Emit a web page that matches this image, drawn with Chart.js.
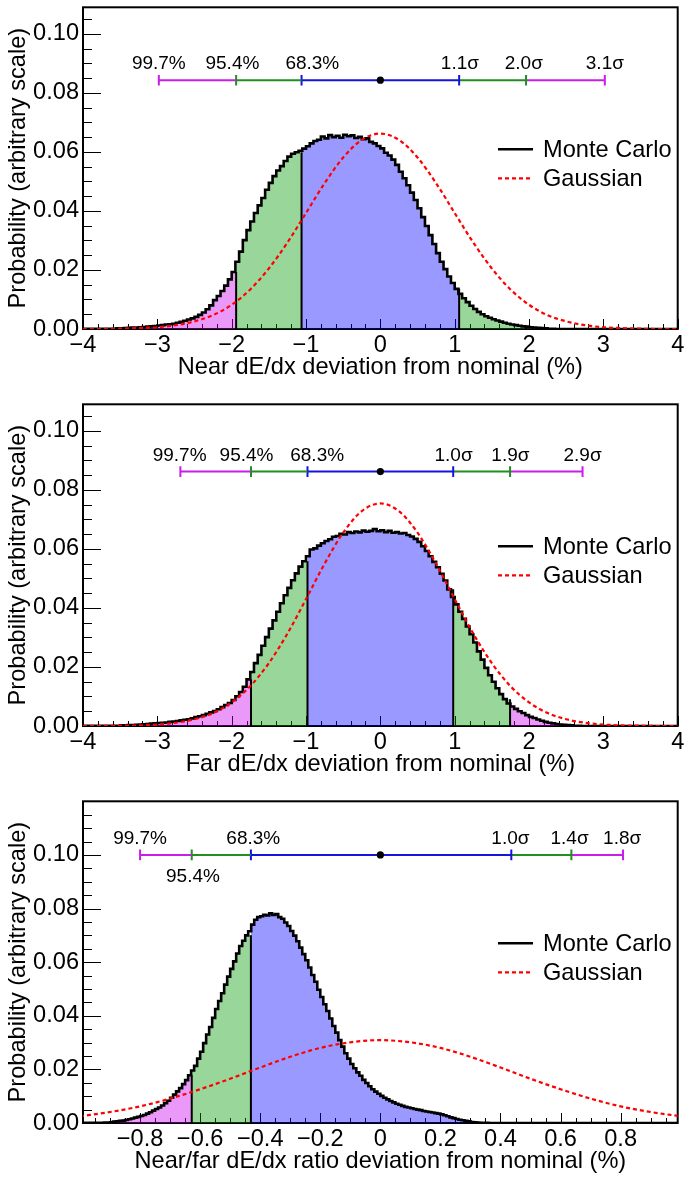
<!DOCTYPE html>
<html>
<head>
<meta charset="utf-8">
<script src="https://cdn.jsdelivr.net/npm/chart.js@4.4.1/dist/chart.umd.min.js"></script>
<style>
  html, body { margin: 0; padding: 0; background: #fff; width: 685px; height: 1180px; overflow: hidden; }
  .panel { position: absolute; left: 0; width: 685px; height: 397px; }
  canvas { display: block; }
</style>
</head>
<body>
<div class="panel" style="top:0px"><canvas id="near" width="685" height="397"></canvas></div>
<div class="panel" style="top:397px"><canvas id="far" width="685" height="397"></canvas></div>
<div class="panel" style="top:794px"><canvas id="ratio" width="685" height="397"></canvas></div>
<script>
// ---------------- data ----------------
const seriesNames = ['Monte Carlo', 'Gaussian'];

const yTicksNF = [0, 0.02, 0.04, 0.06, 0.08, 0.10];
const yTicksRatio = [0, 0.02, 0.04, 0.06, 0.08, 0.10];
const xTicksNF = [-4, -3, -2, -1, 0, 1, 2, 3, 4];
const xTicksRatio = [-0.8, -0.6, -0.4, -0.2, 0, 0.2, 0.4, 0.6, 0.8];

// Monte Carlo histograms: first bin edge, bin width, bin contents
const nearStart = -3.6, nearWidth = 0.05;
const nearMC = [
  0.0001,0.0001,0.0002,0.0002,0.0003,0.0004,0.0005,0.0005,0.0006,0.0007,
  0.0008,0.0009,0.0010,0.0012,0.0013,0.0015,0.0016,0.0018,0.0021,0.0024,
  0.0028,0.0032,0.0036,0.0041,0.0048,0.0056,0.0067,0.0080,0.0098,0.0112,
  0.0129,0.0147,0.0168,0.0193,0.0228,0.0262,0.0301,0.0335,0.0364,0.0393,
  0.0419,0.0444,0.0472,0.0495,0.0518,0.0537,0.0552,0.0569,0.0584,0.0594,
  0.0599,0.0604,0.0611,0.0619,0.0629,0.0637,0.0641,0.0652,0.0646,0.0657,
  0.0650,0.0655,0.0648,0.0658,0.0653,0.0656,0.0647,0.0651,0.0643,0.0646,
  0.0634,0.0629,0.0620,0.0612,0.0597,0.0588,0.0574,0.0556,0.0533,0.0511,
  0.0487,0.0462,0.0437,0.0409,0.0379,0.0349,0.0318,0.0288,0.0257,0.0228,
  0.0203,0.0178,0.0156,0.0136,0.0119,0.0104,0.0091,0.0079,0.0068,0.0058,
  0.0050,0.0043,0.0038,0.0033,0.0029,0.0025,0.0021,0.0018,0.0015,0.0013,
  0.0011,0.0009,0.0008,0.0006,0.0005,0.0004,0.0003,0.0002,0.0001,0.0001
];

const farStart = -3.6, farWidth = 0.05;
const farMC = [
  0.0001,0.0001,0.0001,0.0002,0.0002,0.0003,0.0003,0.0004,0.0005,0.0006,
  0.0007,0.0008,0.0009,0.0010,0.0011,0.0012,0.0014,0.0015,0.0017,0.0019,
  0.0021,0.0023,0.0026,0.0030,0.0033,0.0037,0.0041,0.0046,0.0051,0.0057,
  0.0064,0.0071,0.0078,0.0088,0.0101,0.0115,0.0133,0.0158,0.0183,0.0213,
  0.0241,0.0272,0.0301,0.0330,0.0358,0.0387,0.0416,0.0443,0.0468,0.0494,
  0.0517,0.0540,0.0558,0.0575,0.0598,0.0602,0.0611,0.0619,0.0627,0.0633,
  0.0641,0.0644,0.0651,0.0649,0.0657,0.0654,0.0659,0.0656,0.0662,0.0658,
  0.0661,0.0667,0.0660,0.0663,0.0657,0.0661,0.0655,0.0657,0.0652,0.0654,
  0.0647,0.0642,0.0634,0.0624,0.0609,0.0593,0.0575,0.0556,0.0538,0.0516,
  0.0493,0.0463,0.0437,0.0412,0.0387,0.0363,0.0337,0.0311,0.0283,0.0253,
  0.0225,0.0197,0.0172,0.0150,0.0128,0.0108,0.0091,0.0076,0.0066,0.0058,
  0.0050,0.0044,0.0037,0.0031,0.0027,0.0022,0.0018,0.0014,0.0011,0.0009,
  0.0007,0.0005,0.0004,0.0003,0.0002,0.0001,0.0001
];

const ratioStart = -0.93, ratioWidth = 0.01;
const ratioMC = [
  0.0001,0.0001,0.0002,0.0002,0.0003,0.0005,0.0006,0.0008,0.0009,0.0011,
  0.0014,0.0017,0.0020,0.0023,0.0026,0.0030,0.0035,0.0040,0.0046,0.0052,
  0.0058,0.0065,0.0074,0.0083,0.0094,0.0106,0.0118,0.0130,0.0145,0.0160,
  0.0178,0.0196,0.0213,0.0240,0.0266,0.0298,0.0330,0.0358,0.0392,0.0425,
  0.0455,0.0484,0.0516,0.0546,0.0575,0.0603,0.0632,0.0660,0.0680,0.0700,
  0.0715,0.0740,0.0758,0.0768,0.0771,0.0777,0.0774,0.0782,0.0776,0.0779,
  0.0768,0.0762,0.0748,0.0735,0.0716,0.0699,0.0678,0.0654,0.0630,0.0607,
  0.0580,0.0552,0.0527,0.0497,0.0470,0.0443,0.0418,0.0390,0.0362,0.0337,
  0.0309,0.0285,0.0260,0.0240,0.0220,0.0204,0.0189,0.0176,0.0161,0.0149,
  0.0137,0.0126,0.0117,0.0109,0.0101,0.0094,0.0088,0.0082,0.0077,0.0072,
  0.0068,0.0064,0.0060,0.0058,0.0055,0.0052,0.0050,0.0048,0.0045,0.0043,
  0.0041,0.0039,0.0037,0.0035,0.0032,0.0029,0.0025,0.0021,0.0018,0.0015,
  0.0012,0.0010,0.0008,0.0006,0.0004,0.0003,0.0002,0.0001,0.0001,0.0001
];

// Gaussian curves
const gaussXNF = [-4,-3.75,-3.5,-3.25,-3,-2.75,-2.5,-2.25,-2,-1.75,-1.5,-1.25,-1,-0.75,-0.5,-0.25,
                  0,0.25,0.5,0.75,1,1.25,1.5,1.75,2,2.25,2.5,2.75,3,3.25,3.5,3.75,4];
const nearGauss = [0.0000,0.0000,0.0001,0.0003,0.0006,0.0013,0.0026,0.0047,0.0082,0.0134,0.0205,0.0293,
                   0.0393,0.0494,0.0581,0.0641,0.0662,0.0641,0.0581,0.0494,0.0393,0.0293,0.0205,0.0134,
                   0.0082,0.0047,0.0026,0.0013,0.0006,0.0003,0.0001,0.0000,0.0000];
const farGauss = [0.0000,0.0000,0.0001,0.0002,0.0005,0.0011,0.0023,0.0044,0.0080,0.0135,0.0213,0.0313,
                  0.0430,0.0550,0.0655,0.0728,0.0754,0.0728,0.0655,0.0550,0.0430,0.0313,0.0213,0.0135,
                  0.0080,0.0044,0.0023,0.0011,0.0005,0.0002,0.0001,0.0000,0.0000];
const gaussXRatio = [-1,-0.9,-0.8,-0.7,-0.6,-0.5,-0.4,-0.3,-0.2,-0.1,0,0.1,0.2,0.3,0.4,0.5,0.6,0.7,0.8,0.9,1];
const ratioGauss = [0.0025,0.0041,0.0062,0.0091,0.0126,0.0165,0.0207,0.0247,0.0280,0.0301,0.0309,
                    0.0301,0.0280,0.0247,0.0207,0.0165,0.0126,0.0091,0.0062,0.0041,0.0025];

// Interval ends: 99.7%, 95.4%, 68.3% (low side), then 68.3%, 95.4%, 99.7% (high side)
const nearIntervals = [-2.98, -1.94, -1.06, 1.06, 1.96, 3.02];
const farIntervals = [-2.69, -1.74, -0.98, 0.98, 1.745, 2.72];
const ratioIntervals = [-0.80, -0.628, -0.431, 0.436, 0.636, 0.808];
const nearCentre = 0, farCentre = 0, ratioCentre = 0;
const nearBarLevel = 0.0843, farBarLevel = 0.0862, ratioBarLevel = 0.100;

const lowLabels = ['99.7%', '95.4%', '68.3%'];
const nearHighLabels = ['1.1σ', '2.0σ', '3.1σ'];
const farHighLabels = ['1.0σ', '1.9σ', '2.9σ'];
const ratioHighLabels = ['1.0σ', '1.4σ', '1.8σ'];
const nearLowLabelX = [-2.98, -1.99, -0.915];
const nearHighLabelX = [1.07, 1.93, 3.02];
const farLowLabelX = [-2.70, -1.80, -0.85];
const farHighLabelX = [0.985, 1.75, 2.72];
const ratioLowLabelX = [-0.80, -0.624, -0.423];
const ratioHighLabelX = [0.433, 0.63, 0.805];

// ---------------- styling ----------------
const FONT = "'Liberation Sans', Arial, Helvetica, sans-serif";
const BIG = 23.6, SMALL = 19;
const FILL = ['rgba(204,0,240,0.4)', 'rgba(0,153,0,0.4)', 'rgba(0,0,255,0.4)', 'rgba(0,153,0,0.4)', 'rgba(204,0,240,0.4)'];
const BAR = ['#c81ee8', '#1f8f1f', '#1414dc', '#1f8f1f', '#c81ee8'];

Chart.defaults.font.family = FONT;
Chart.defaults.color = '#000';

const fmtInt = v => (v < 0 ? '\u2212' : '') + Math.abs(v);
const fmtDec = v => v === 0 ? '0' : (v < 0 ? '\u2212' : '') + Math.abs(v).toFixed(1);

const panels = [
  { id: 'near', hist: {start: nearStart, width: nearWidth, values: nearMC},
    gx: gaussXNF, gy: nearGauss, xmin: -4, xmax: 4, ymax: 0.109,
    xTicks: xTicksNF, xMinor: 0.2, yTicks: yTicksNF, yMinor: 0.005, fmt: fmtInt,
    title: 'Near dE/dx deviation from nominal (%)',
    iv: nearIntervals, centre: nearCentre, bar: nearBarLevel,
    lowText: lowLabels, lowX: nearLowLabelX, lowBelow: [false, false, false],
    highText: nearHighLabels, highX: nearHighLabelX },
  { id: 'far', hist: {start: farStart, width: farWidth, values: farMC},
    gx: gaussXNF, gy: farGauss, xmin: -4, xmax: 4, ymax: 0.109,
    xTicks: xTicksNF, xMinor: 0.2, yTicks: yTicksNF, yMinor: 0.005, fmt: fmtInt,
    title: 'Far dE/dx deviation from nominal (%)',
    iv: farIntervals, centre: farCentre, bar: farBarLevel,
    lowText: lowLabels, lowX: farLowLabelX, lowBelow: [false, false, false],
    highText: farHighLabels, highX: farHighLabelX },
  { id: 'ratio', hist: {start: ratioStart, width: ratioWidth, values: ratioMC},
    gx: gaussXRatio, gy: ratioGauss, xmin: -0.99, xmax: 0.99, ymax: 0.12,
    xTicks: xTicksRatio, xMinor: 0.05, yTicks: yTicksRatio, yMinor: 0.005, fmt: fmtDec,
    title: 'Near/far dE/dx ratio deviation from nominal (%)',
    iv: ratioIntervals, centre: ratioCentre, bar: ratioBarLevel,
    lowText: lowLabels, lowX: ratioLowLabelX, lowBelow: [false, true, false],
    highText: ratioHighLabels, highX: ratioHighLabelX }
];

// ---------------- drawing helpers ----------------
function decorPlugin(p) {
  const has = (arr, v) => arr.some(t => Math.abs(t - v) < 1e-7);
  return {
    id: 'decor',
    beforeDatasetsDraw(chart) {
      const {ctx, chartArea: a, scales: {x, y}} = chart;
      ctx.save();
      ctx.strokeStyle = '#000';
      ctx.lineWidth = 1;
      ctx.beginPath();
      for (let k = 0; k * p.yMinor <= p.ymax + 1e-9; k++) {
        const v = +(k * p.yMinor).toFixed(6);
        const py = Math.round(y.getPixelForValue(v)) + 0.5;
        const len = has(p.yTicks, v) ? 18 : 9;
        ctx.moveTo(a.left, py); ctx.lineTo(a.left + len, py);
      }
      const k0 = Math.ceil(p.xmin / p.xMinor - 1e-9), k1 = Math.floor(p.xmax / p.xMinor + 1e-9);
      for (let k = k0; k <= k1; k++) {
        const v = +(k * p.xMinor).toFixed(6);
        const px = Math.round(x.getPixelForValue(v)) + 0.5;
        const len = has(p.xTicks, v) ? 10 : 5;
        ctx.moveTo(px, a.bottom); ctx.lineTo(px, a.bottom - len);
      }
      ctx.stroke();
      ctx.lineWidth = 2;
      ctx.strokeRect(a.left, a.top, a.right - a.left, a.bottom - a.top);
      ctx.restore();
    },
    afterDatasetsDraw(chart) {
      const {ctx, chartArea: a, scales: {x, y}} = chart;
      ctx.save();
      // interval labels
      ctx.fillStyle = '#000';
      ctx.font = SMALL + 'px ' + FONT;
      ctx.textAlign = 'center';
      ctx.textBaseline = 'alphabetic';
      const by = y.getPixelForValue(p.bar);
      p.lowText.forEach((t, i) => {
        ctx.fillText(t, x.getPixelForValue(p.lowX[i]), p.lowBelow[i] ? by + 27 : by - 11);
      });
      p.highText.forEach((t, i) => {
        ctx.fillText(t, x.getPixelForValue(p.highX[i]), by - 11);
      });
      // legend
      const l1 = a.top + 142, l2 = a.top + 171;
      ctx.lineCap = 'butt';
      ctx.strokeStyle = '#000'; ctx.lineWidth = 2.5; ctx.setLineDash([]);
      ctx.beginPath(); ctx.moveTo(498, l1); ctx.lineTo(533, l1); ctx.stroke();
      ctx.strokeStyle = '#ff0000'; ctx.lineWidth = 2.2; ctx.setLineDash([4, 3]);
      ctx.beginPath(); ctx.moveTo(498, l2); ctx.lineTo(533, l2); ctx.stroke();
      ctx.setLineDash([]);
      ctx.font = BIG + 'px ' + FONT;
      ctx.textAlign = 'left';
      ctx.textBaseline = 'middle';
      ctx.fillText(seriesNames[0], 543, l1 + 1.3);
      ctx.fillText(seriesNames[1], 543, l2 + 1.3);
      ctx.restore();
    }
  };
}

function buildDatasets(p) {
  const h = p.hist;
  const edge = i => +(h.start + i * h.width).toFixed(5);
  const valueAt = v => {
    const i = Math.floor((v - h.start) / h.width + 1e-9);
    return (i >= 0 && i < h.values.length) ? h.values[i] : 0;
  };
  const ds = [];

  // coloured probability regions under the histogram
  const bounds = [p.xmin, p.iv[1], p.iv[2], p.iv[3], p.iv[4], p.xmax];
  for (let r = 0; r < 5; r++) {
    const lo = bounds[r], hi = bounds[r + 1];
    const pts = [];
    let last = 0;
    h.values.forEach((v, i) => {
      const e0 = edge(i), e1 = edge(i + 1);
      if (e1 <= lo || e0 >= hi) return;
      pts.push({x: Math.max(e0, lo), y: v});
      last = v;
    });
    if (!pts.length) pts.push({x: lo, y: 0});
    pts.push({x: hi, y: last});
    ds.push({data: pts, stepped: 'after', fill: 'origin', backgroundColor: FILL[r],
             borderColor: 'rgba(0,0,0,0)', borderWidth: 0, order: 6});
  }

  // region boundaries
  for (let j = 1; j <= 4; j++) {
    const b = p.iv[j];
    ds.push({data: [{x: b, y: 0}, {x: b, y: valueAt(b)}], borderColor: '#000', borderWidth: 2,
             fill: false, order: 5});
  }

  // histogram outline
  const outline = [{x: p.xmin, y: 0}];
  h.values.forEach((v, i) => outline.push({x: edge(i), y: v}));
  outline.push({x: edge(h.values.length), y: 0});
  outline.push({x: p.xmax, y: 0});
  ds.push({label: seriesNames[0], data: outline, stepped: 'after', borderColor: '#000',
           borderWidth: 2.6, fill: false, order: 4});

  // interval bars with end caps
  for (let s = 0; s < 5; s++) {
    ds.push({data: [{x: p.iv[s], y: p.bar}, {x: p.iv[s + 1], y: p.bar}],
             borderColor: BAR[s], borderWidth: 2, fill: false,
             pointStyle: 'line', pointRotation: 90,
             pointRadius: [s <= 2 ? 5.3 : 0, s >= 2 ? 5.3 : 0],
             pointBorderColor: BAR[s], pointBorderWidth: 2, order: 2});
  }
  ds.push({data: [{x: p.centre, y: p.bar}], showLine: false, pointStyle: 'circle',
           pointRadius: 3.6, pointBackgroundColor: '#000', pointBorderColor: '#000',
           pointBorderWidth: 0, order: 0});

  // Gaussian
  ds.push({label: seriesNames[1], data: p.gx.map((v, i) => ({x: v, y: p.gy[i]})),
           borderColor: '#ff0000', borderWidth: 2.2, borderDash: [4, 3],
           cubicInterpolationMode: 'monotone', fill: false, order: 1});
  return ds;
}

panels.forEach(p => {
  new Chart(document.getElementById(p.id), {
    type: 'line',
    data: {datasets: buildDatasets(p)},
    options: {
      responsive: false,
      devicePixelRatio: 1,
      animation: false,
      events: [],
      layout: {padding: {top: 4, right: 5, left: 0, bottom: 0}},
      elements: {point: {radius: 0}, line: {tension: 0}},
      plugins: {legend: {display: false}, tooltip: {enabled: false}},
      scales: {
        x: {
          type: 'linear', min: p.xmin, max: p.xmax, bounds: 'data',
          grid: {display: false, drawTicks: false}, border: {display: false},
          afterBuildTicks: s => { s.ticks = p.xTicks.map(v => ({value: v})); },
          afterFit: s => { s.height = 68; s.paddingLeft = 0; s.paddingRight = 0; },
          ticks: {autoSkip: false, maxRotation: 0, padding: 2, color: '#000',
                  font: {size: BIG}, callback: v => p.fmt(v)},
          title: {display: true, text: p.title, color: '#000', font: {size: BIG},
                  padding: {top: 0, bottom: 15.4}}
        },
        y: {
          type: 'linear', min: 0, max: p.ymax, bounds: 'data',
          grid: {display: false, drawTicks: false}, border: {display: false},
          afterBuildTicks: s => { s.ticks = p.yTicks.map(v => ({value: v})); },
          afterFit: s => { s.width = 83; s.paddingTop = 0; s.paddingBottom = 0; },
          ticks: {autoSkip: false, padding: 4, color: '#000', font: {size: BIG},
                  callback: v => v.toFixed(2)},
          title: {display: true, text: 'Probability (arbitrary scale)', color: '#000',
                  font: {size: BIG}, padding: {top: 4.8, bottom: 0}}
        }
      }
    },
    plugins: [decorPlugin(p)]
  });
});
</script>
</body>
</html>
